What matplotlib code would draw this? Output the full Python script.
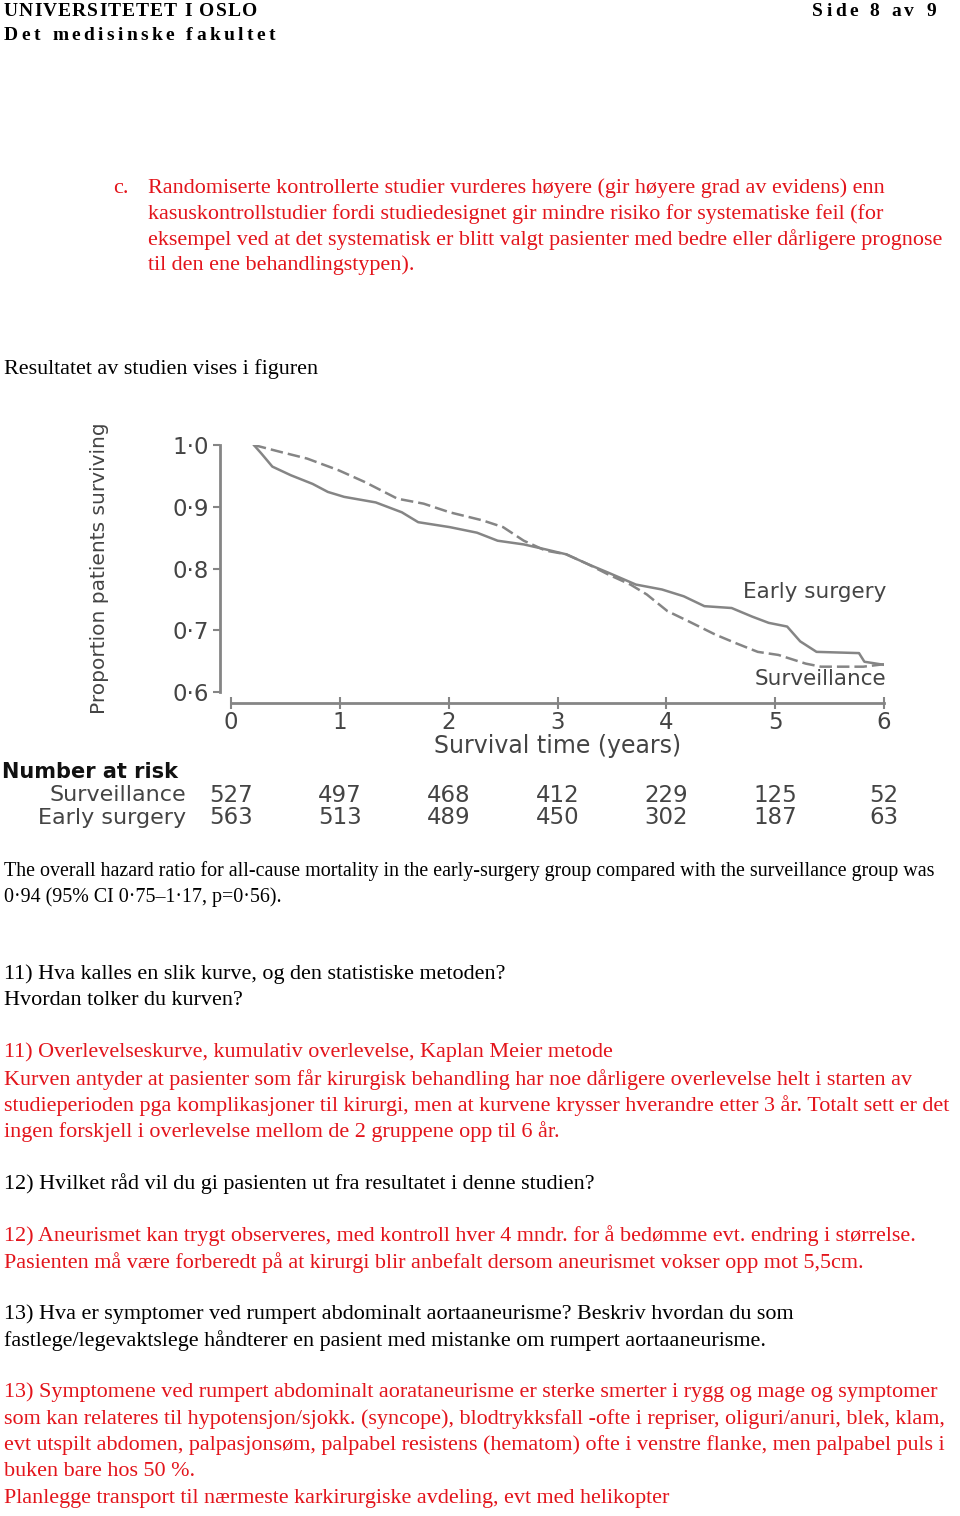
import matplotlib
matplotlib.use("Agg")
import matplotlib.pyplot as plt
import matplotlib.transforms as mtransforms

# ---------------- data ----------------
years = [0, 1, 2, 3, 4, 5, 6]
y_ticks = [0.6, 0.7, 0.8, 0.9, 1.0]
y_tick_labels = ["0·6", "0·7", "0·8", "0·9", "1·0"]

early_t = [0.21, 0.28, 0.38, 0.55, 0.75, 0.89, 1.04, 1.33, 1.57, 1.72, 2.01, 2.26, 2.45,
           2.69, 2.89, 3.08, 3.28, 3.47, 3.72, 3.96, 4.16, 4.35, 4.60, 4.79, 4.94, 5.11,
           5.23, 5.38, 5.77, 5.82, 6.0]
early_s = [1.0, 0.986, 0.965, 0.951, 0.937, 0.924, 0.916, 0.907, 0.891, 0.875, 0.867, 0.858,
           0.845, 0.839, 0.831, 0.823, 0.807, 0.793, 0.774, 0.766, 0.755, 0.739, 0.736, 0.722,
           0.712, 0.706, 0.682, 0.665, 0.663, 0.649, 0.644]

surv_t = [0.21, 0.45, 0.70, 0.99, 1.23, 1.53, 1.77, 2.01, 2.31, 2.50, 2.69, 2.89, 3.08,
          3.28, 3.47, 3.67, 3.82, 4.01, 4.21, 4.45, 4.64, 4.84, 5.03, 5.28, 5.42, 5.81, 6.0]
surv_s = [1.0, 0.989, 0.978, 0.959, 0.940, 0.913, 0.905, 0.891, 0.878, 0.867, 0.845, 0.829,
          0.823, 0.807, 0.790, 0.774, 0.758, 0.731, 0.714, 0.693, 0.679, 0.665, 0.660, 0.646,
          0.641, 0.641, 0.645]

risk_groups = ["Surveillance", "Early surgery"]
risk_surveillance = [527, 497, 468, 412, 229, 125, 52]
risk_early = [563, 513, 489, 450, 302, 187, 63]

header_left = ["UNIVERSITETET I OSLO", "Det medisinske fakultet"]
header_right = "Side 8 av 9"

item_c = ["Randomiserte kontrollerte studier vurderes høyere (gir høyere grad av evidens) enn",
          "kasuskontrollstudier fordi studiedesignet gir mindre risiko for systematiske feil (for",
          "eksempel ved at det systematisk er blitt valgt pasienter med bedre eller dårligere prognose",
          "til den ene behandlingstypen)."]

# (y, text, colour, small)
body = [
    (368, "Resultatet av studien vises i figuren", "k", False),
    (870, "The overall hazard ratio for all-cause mortality in the early-surgery group compared with the surveillance group was", "k", True),
    (896, "0·94 (95% CI 0·75–1·17, p=0·56).", "k", True),
    (973, "11) Hva kalles en slik kurve, og den statistiske metoden?", "k", False),
    (999, "Hvordan tolker du kurven?", "k", False),
    (1051, "11) Overlevelseskurve, kumulativ overlevelse, Kaplan Meier metode", "r", False),
    (1078, "Kurven antyder at pasienter som får kirurgisk behandling har noe dårligere overlevelse helt i starten av", "r", False),
    (1104, "studieperioden pga komplikasjoner til kirurgi, men at kurvene krysser hverandre etter 3 år. Totalt sett er det", "r", False),
    (1130, "ingen forskjell i overlevelse mellom de 2 gruppene opp til 6 år.", "r", False),
    (1182, "12) Hvilket råd vil du gi pasienten ut fra resultatet i denne studien?", "k", False),
    (1234, "12) Aneurismet kan trygt observeres, med kontroll hver 4 mndr. for å bedømme evt. endring i størrelse.", "r", False),
    (1261, "Pasienten må være forberedt på at kirurgi blir anbefalt dersom aneurismet vokser opp mot 5,5cm.", "r", False),
    (1313, "13) Hva er symptomer ved rumpert abdominalt aortaaneurisme? Beskriv hvordan du som", "k", False),
    (1339, "fastlege/legevaktslege håndterer en pasient med mistanke om rumpert aortaaneurisme.", "k", False),
    (1391, "13) Symptomene ved rumpert abdominalt aorataneurisme er sterke smerter i rygg og mage og symptomer", "r", False),
    (1418, "som kan relateres til hypotensjon/sjokk. (syncope), blodtrykksfall -ofte i repriser, oliguri/anuri, blek, klam,", "r", False),
    (1444, "evt utspilt abdomen, palpasjonsøm, palpabel resistens (hematom) ofte i venstre flanke, men palpabel puls i", "r", False),
    (1470, "buken bare hos 50 %.", "r", False),
    (1497, "Planlegge transport til nærmeste karkirurgiske avdeling, evt med helikopter", "r", False),
]

RED = "#e3141b"
SERIF = "Liberation Serif"
SANS = "DejaVu Sans"
BODY_FS = 15.9
SMALL_FS = 14.45
GRAY = "#858585"
TXT = "#444444"
DY = 1.5  # small baseline correction

W, H = 960, 1516
fig = plt.figure(figsize=(W / 100, H / 100), dpi=100)
fig.patch.set_facecolor("white")

page = fig.add_axes([0, 0, 1, 1])
page.set_xlim(0, W)
page.set_ylim(H, 0)
page.axis("off")

renderer = fig.canvas.get_renderer()


def spaced_text(x0, y, s, width, **kw):
    # draw string char by char with uniform extra spacing to reach target width
    widths = []
    for ch in s:
        t = page.text(0, 0, ch if ch != " " else "n", **kw)
        bb = t.get_window_extent(renderer)
        widths.append(bb.width * (0.5 if ch == " " else 1.0))
        t.remove()
    natural = sum(widths)
    extra = (width - natural) / max(len(s) - 1, 1)
    x = x0
    for ch, w in zip(s, widths):
        if ch != " ":
            page.text(x, y, ch, ha="left", va="center", **kw)
        x += w + extra


hkw = dict(family=SERIF, fontweight="bold", fontsize=14, color="black")
spaced_text(4, 11, header_left[0], 253, **hkw)
spaced_text(4, 36, header_left[1], 271, **hkw)
spaced_text(812, 11, header_right, 124, **hkw)

page.text(113, 187 + DY, "c.", family=SERIF, fontsize=BODY_FS, color=RED, ha="left", va="center")
for i, line in enumerate(item_c):
    page.text(148, 187 + DY + i * 25.5, line, family=SERIF, fontsize=BODY_FS, color=RED,
              ha="left", va="center")

for y, line, c, small in body:
    page.text(4, y + DY, line, family=SERIF, fontsize=(SMALL_FS if small else BODY_FS),
              color=(RED if c == "r" else "black"), ha="left", va="center")

# ---------------- chart ----------------
x0px, x6px = 231, 884
ytop, ybot = 445, 692
ax = fig.add_axes([x0px / W, 1 - ybot / H, (x6px - x0px) / W, (ybot - ytop) / H])
ax.set_xlim(0, 6)
ax.set_ylim(0.6, 1.0)
ax.patch.set_alpha(0)

ax.plot(early_t, early_s, color=GRAY, lw=1.8)
ax.plot(surv_t, surv_s, color=GRAY, lw=1.8, linestyle=(0, (5, 2)))

for side in ["top", "right"]:
    ax.spines[side].set_visible(False)
for side in ["left", "bottom"]:
    ax.spines[side].set_position(("outward", 8))
    ax.spines[side].set_color(GRAY)
    ax.spines[side].set_linewidth(2)
ax.spines["left"].set_bounds(0.6, 1.0)
ax.spines["bottom"].set_bounds(0, 6)

ax.set_yticks(y_ticks)
ax.set_yticklabels(y_tick_labels)
ax.set_xticks(years)
ax.set_xticklabels([str(v) for v in years])
ax.tick_params(axis="y", direction="out", length=5, width=1.5, color=GRAY, pad=3,
               labelsize=16.5, labelcolor=TXT)
ax.tick_params(axis="x", direction="inout", length=9, width=1.5, color=GRAY, pad=1.5,
               labelsize=16.5, labelcolor=TXT)
for lab in ax.get_xticklabels() + ax.get_yticklabels():
    lab.set_family(SANS)

ax.set_xlabel("Survival time (years)", family=SANS, fontsize=17, color=TXT, labelpad=0)
ax.set_ylabel("Proportion patients surviving", family=SANS, fontsize=14.5, color=TXT)
ax.yaxis.set_label_coords((109 - x0px) / (x6px - x0px), (ybot - 568) / (ybot - ytop))

page.text(886, 592, "Early surgery", family=SANS, fontsize=15.5, color=TXT, ha="right", va="center")
page.text(886, 679, "Surveillance", family=SANS, fontsize=15.5, color=TXT, ha="right", va="center")

# number at risk
blend = mtransforms.blended_transform_factory(ax.transData, page.transData)
page.text(2, 772, "Number at risk", family=SANS, fontsize=15, fontweight="bold", color="#111111",
          ha="left", va="center")
for yy, name, vals in [(795, risk_groups[0], risk_surveillance), (818, risk_groups[1], risk_early)]:
    page.text(186, yy, name, family=SANS, fontsize=16, color=TXT, ha="right", va="center")
    for t, v in zip(years, vals):
        ax.text(t, yy, str(v), transform=blend, family=SANS, fontsize=16.5, color=TXT,
                ha="center", va="center", clip_on=False)

fig.savefig("out.png", dpi=100, facecolor="white")
